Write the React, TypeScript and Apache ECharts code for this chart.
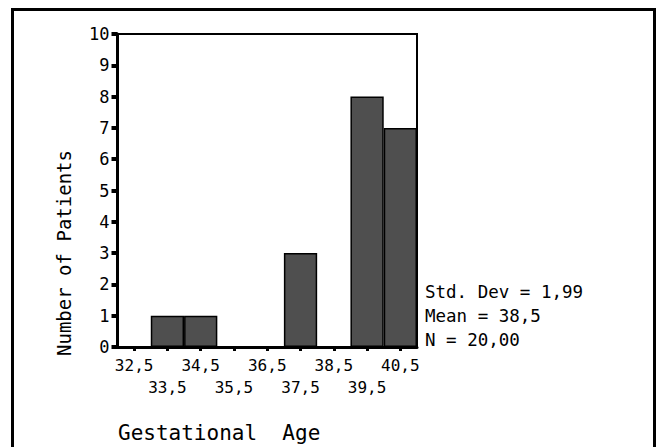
import React, { useEffect, useRef } from "react";
import * as echarts from "echarts";

const categories = ["32,5", "33,5", "34,5", "35,5", "36,5", "37,5", "38,5", "39,5", "40,5"];
const counts = [0, 1, 1, 0, 0, 3, 0, 8, 7];
const yTicks = { min: 0, max: 10, interval: 1 };
const statLines = ["Std. Dev = 1,99", "Mean = 38,5", "N = 20,00"];
const xTitle = "Gestational  Age";
const yTitle = "Number of Patients";

const MONO = "'DejaVu Sans Mono', 'Liberation Mono', monospace";

export default function App() {
  const ref = useRef<HTMLDivElement>(null);
  useEffect(() => {
    if (!ref.current) return;
    const chart = echarts.init(ref.current, undefined, { renderer: "svg" });
    chart.setOption({
      animation: false,
      backgroundColor: "#fff",
      grid: {
        left: 117.5,
        right: 242,
        top: 34,
        bottom: 100,
        show: true,
        borderColor: "#000",
        borderWidth: 2,
        backgroundColor: "transparent",
      },
      xAxis: {
        type: "category",
        data: categories,
        boundaryGap: true,
        axisLine: { show: true, lineStyle: { color: "#000", width: 3 } },
        axisTick: { show: true, alignWithLabel: true, interval: 0, length: 4, lineStyle: { color: "#000", width: 3 } },
        axisLabel: {
          interval: 0,
          margin: 7,
          color: "#000",
          fontFamily: MONO,
          fontSize: 16,
          lineHeight: 22,
          formatter: (v: string, i: number) => (i % 2 === 0 ? v : "\n" + v),
        },
        splitLine: { show: false },
      },
      yAxis: {
        type: "value",
        min: yTicks.min,
        max: yTicks.max,
        interval: yTicks.interval,
        axisLine: { show: true, lineStyle: { color: "#000", width: 3 } },
        axisTick: { show: true, length: 6, lineStyle: { color: "#000", width: 4 } },
        axisLabel: { margin: 8, color: "#000", fontFamily: MONO, fontSize: 17 },
        splitLine: { show: false },
      },
      series: [
        {
          type: "bar",
          data: counts,
          barCategoryGap: "0%",
          itemStyle: { color: "#4f4f4f", borderColor: "#000", borderWidth: 1.5 },
        },
      ],
      graphic: [
        {
          type: "rect",
          shape: { x: 12.5, y: 9.5, width: 642, height: 520 },
          style: { fill: "none", stroke: "#000", lineWidth: 3 },
          silent: true,
        },
        ...statLines.map((t, i) => ({
          type: "text",
          x: 425,
          y: 292 + i * 24,
          style: {
            text: t,
            fill: "#000",
            font: `17.5px ${MONO}`,
            textAlign: "left",
            textVerticalAlign: "middle",
          },
        })),
        {
          type: "text",
          x: 118,
          y: 433,
          style: {
            text: xTitle,
            fill: "#000",
            font: `21px ${MONO}`,
            textAlign: "left",
            textVerticalAlign: "middle",
          },
        },
        {
          type: "text",
          x: 63.5,
          y: 253,
          rotation: Math.PI / 2,
          style: {
            text: yTitle,
            fill: "#000",
            font: `19px ${MONO}`,
            textAlign: "center",
            textVerticalAlign: "middle",
          },
        },
      ],
    });
    return () => chart.dispose();
  }, []);
  return (
    <div
      ref={ref}
      style={{ position: "fixed", left: 0, top: 0, width: 659, height: 447, background: "#fff" }}
    />
  );
}
